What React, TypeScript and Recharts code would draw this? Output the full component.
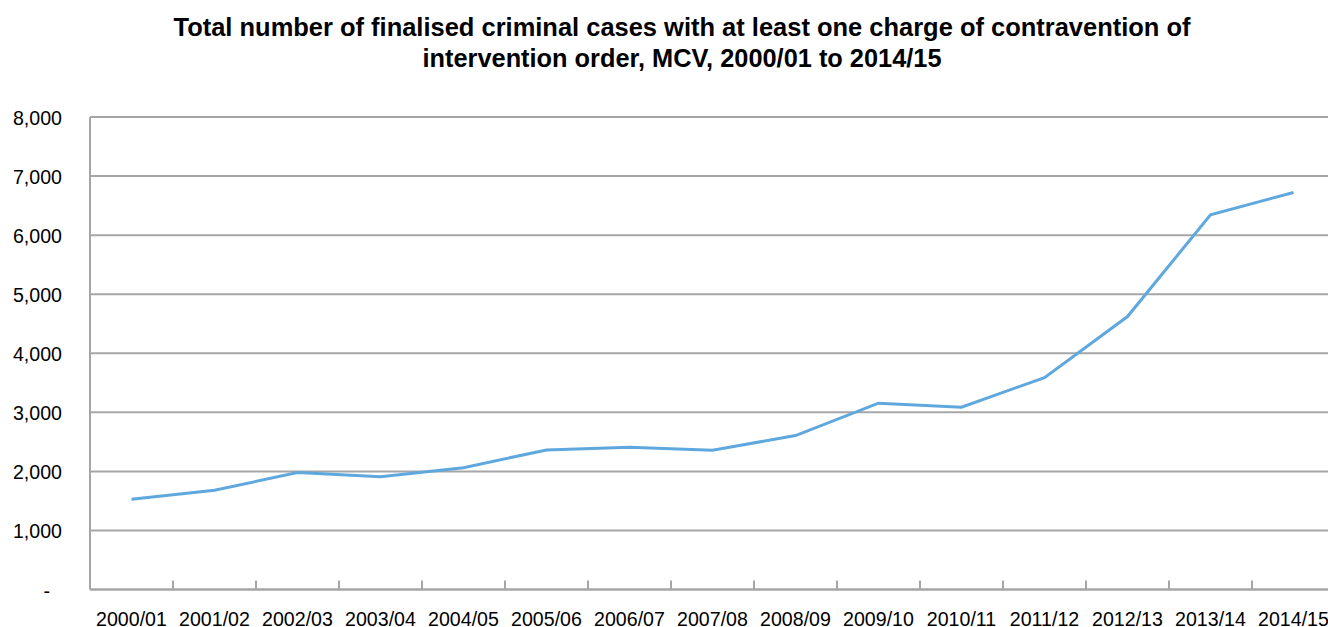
import { LineChart, Line, XAxis, YAxis, CartesianGrid } from "recharts";

const YEARS = [
  "2000/01", "2001/02", "2002/03", "2003/04", "2004/05",
  "2005/06", "2006/07", "2007/08", "2008/09", "2009/10",
  "2010/11", "2011/12", "2012/13", "2013/14", "2014/15",
];

const CASES = [
  1528, 1681, 1979, 1911, 2063,
  2363, 2409, 2358, 2606, 3154,
  3087, 3588, 4621, 6344, 6722,
];

const Y_TICKS = [0, 1000, 2000, 3000, 4000, 5000, 6000, 7000, 8000];

const GRID = "#a6a6a6";
const FONT = "'Liberation Sans', Arial, sans-serif";

const data = YEARS.map((year, i) => ({ idx: i, year, cases: CASES[i] }));

function YTick(props: any) {
  const { x, y, payload } = props;
  if (payload.value === 0) {
    return (
      <text x={x - 12} y={y} dy="0.45em" textAnchor="end" fontSize={19.6} fill="#000" fontFamily={FONT}>
        -
      </text>
    );
  }
  return (
    <text x={x} y={y} dy="0.4em" textAnchor="end" fontSize={19.6} fill="#000" fontFamily={FONT}>
      {payload.value.toLocaleString("en-US")}
    </text>
  );
}

// label in the middle of each category, small upward tick on the boundary to its right
function XTick(props: any) {
  const { x, y, payload, index, width, visibleTicksCount } = props;
  const band = (width ?? 1245) / (visibleTicksCount ?? YEARS.length);
  const last = index === YEARS.length - 1;
  return (
    <g>
      {!last && (
        <line x1={x + band / 2} x2={x + band / 2} y1={y} y2={y - 9} stroke={GRID} strokeWidth={2} />
      )}
      <text x={x} y={y} dy={36} textAnchor="middle" fontSize={19.6} fill="#000" fontFamily={FONT}>
        {YEARS[payload.value]}
      </text>
    </g>
  );
}

export default function App() {
  return (
    <div style={{ position: "relative", width: 1328, height: 627, overflow: "hidden", background: "#fff" }}>
      <style>{"html,body{margin:0;padding:0;overflow:hidden;}"}</style>
      <svg width={1328} height={90} style={{ position: "absolute", left: 0, top: 0 }}>
        <text x={682} y={36} textAnchor="middle" fontSize={26} fontWeight="bold" fontFamily={FONT}
          textLength={1017} lengthAdjust="spacingAndGlyphs">
          Total number of finalised criminal cases with at least one charge of contravention of
        </text>
        <text x={682} y={67} textAnchor="middle" fontSize={26} fontWeight="bold" fontFamily={FONT}
          textLength={519} lengthAdjust="spacingAndGlyphs">
          intervention order, MCV, 2000/01 to 2014/15
        </text>
      </svg>
      <LineChart width={1328} height={627} data={data} margin={{ top: 117, right: -7, bottom: 0, left: 0 }}>
        <CartesianGrid vertical={false} stroke={GRID} strokeWidth={2} />
        <XAxis
          type="number"
          dataKey="idx"
          domain={[-0.5, 14.5]}
          ticks={YEARS.map((_, i) => i)}
          height={37.5}
          interval={0}
          axisLine={{ stroke: GRID, strokeWidth: 2 }}
          tickLine={false}
          tickSize={0}
          tickMargin={0}
          tick={<XTick />}
        />
        <YAxis
          domain={[0, 8000]}
          ticks={Y_TICKS}
          width={90}
          interval={0}
          axisLine={{ stroke: GRID, strokeWidth: 2 }}
          tickLine={false}
          tickSize={0}
          tickMargin={28}
          tick={<YTick />}
        />
        <Line
          type="linear"
          dataKey="cases"
          stroke="#5fa8dd"
          strokeWidth={3}
          dot={false}
          activeDot={false}
          isAnimationActive={false}
        />
      </LineChart>
    </div>
  );
}
